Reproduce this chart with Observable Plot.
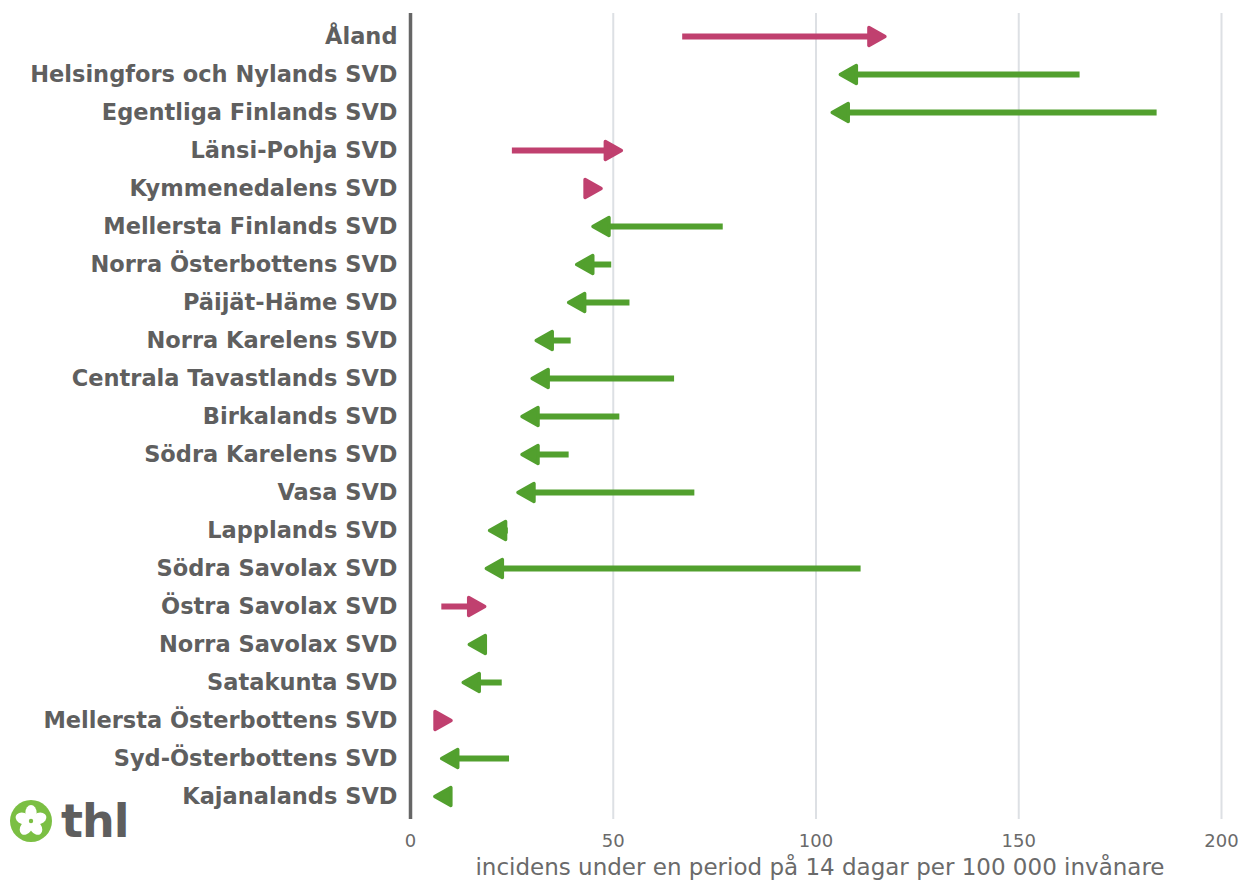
<!DOCTYPE html>
<html><head><meta charset="utf-8">
<script src="https://cdn.jsdelivr.net/npm/d3@7"></script>
<script src="https://cdn.jsdelivr.net/npm/@observablehq/plot@0.6"></script>
<style>
body{margin:0;background:#fff;}
#wrap{position:relative;width:1240px;height:882px;}
#logo{position:absolute;left:9px;top:799px;display:flex;align-items:center;}
#logo span{font-family:"DejaVu Sans",sans-serif;font-weight:bold;font-size:46px;color:#5e5e5e;margin-left:8px;letter-spacing:-1px;line-height:44px;}
</style></head><body>
<div id="wrap"><div id="chart"></div>
<div id="logo">
<svg width="44" height="44" viewBox="-22 -22 44 44">
<circle r="21" fill="#7bbf43"/>
<g fill="#fff">
<ellipse cx="0" cy="-8.5" rx="5.6" ry="7.5"/>
<ellipse cx="0" cy="-8.5" rx="5.6" ry="7.5" transform="rotate(72)"/>
<ellipse cx="0" cy="-8.5" rx="5.6" ry="7.5" transform="rotate(144)"/>
<ellipse cx="0" cy="-8.5" rx="5.6" ry="7.5" transform="rotate(216)"/>
<ellipse cx="0" cy="-8.5" rx="5.6" ry="7.5" transform="rotate(288)"/>
</g>
<circle r="2.2" fill="#7bbf43"/>
</svg><span>thl</span></div>
</div>
<script>
const regions = ["Åland","Helsingfors och Nylands SVD","Egentliga Finlands SVD","Länsi-Pohja SVD","Kymmenedalens SVD","Mellersta Finlands SVD","Norra Österbottens SVD","Päijät-Häme SVD","Norra Karelens SVD","Centrala Tavastlands SVD","Birkalands SVD","Södra Karelens SVD","Vasa SVD","Lapplands SVD","Södra Savolax SVD","Östra Savolax SVD","Norra Savolax SVD","Satakunta SVD","Mellersta Österbottens SVD","Syd-Österbottens SVD","Kajanalands SVD"];
const previous = [67,165,184,25,43,77,49.5,54,39.5,65,51.5,39,70,24,111,7.6,18,22.5,6,24.3,10];
const current = [117,106,104,52,47,45,41,39,31,30,27.5,27.5,26.5,19.5,18.7,18.3,14.5,13,10,7.7,6];
const xTicks = [0,50,100,150,200];
const xLabel = "incidens under en period på 14 dagar per 100 000 invånare";

const data = regions.map((r,i)=>({region:r, prev:previous[i], curr:current[i]}));
const upColor = "#c0406f", downColor = "#52a02e";
const col = d => d.curr > d.prev ? upColor : downColor;
const head = {draw(ctx, l){ const w = 9; ctx.moveTo(0,-l); ctx.lineTo(w,0); ctx.lineTo(-w,0); ctx.closePath(); }};

const chart = Plot.plot({
  width: 1240, height: 882,
  marginLeft: 410, marginRight: 19, marginTop: 13, marginBottom: 63,
  style: {fontFamily: "DejaVu Sans, sans-serif", background: "#fff"},
  x: {domain: [0,200], ticks: xTicks},
  y: {domain: regions, padding: 0.6},
  marks: [
    Plot.ruleX(xTicks.slice(1), {stroke: "#dde0e4", strokeWidth: 2}),
    Plot.ruleX([0], {stroke: "#666", strokeWidth: 3.5}),
    Plot.axisX({ticks: xTicks, tickSize: 0, tickPadding: 15, fontSize: 18, color: "#6a6a6a", label: null}),
    Plot.axisY({tickSize: 0, tickPadding: 13, fontSize: 22.5, fontWeight: "bold", color: "#5f5f5f", label: null}),
    Plot.text([xLabel], {frameAnchor: "bottom", dy: 55, dx: 4, fontSize: 23, fill: "#6a6a6a"}),
    Plot.arrow(data, {x1: "prev", x2: "curr", y: "region", stroke: col, strokeWidth: 6, headLength: 0, insetEnd: 10, strokeLinecap: "butt"}),
    Plot.vector(data, {x: "curr", y: "region", length: 16, rotate: d => d.curr > d.prev ? 90 : -90, anchor: "end", shape: head, fill: col, stroke: col, strokeWidth: 3.5, strokeLinejoin: "round"})
  ]
});
document.getElementById("chart").appendChild(chart);
</script>
</body></html>
